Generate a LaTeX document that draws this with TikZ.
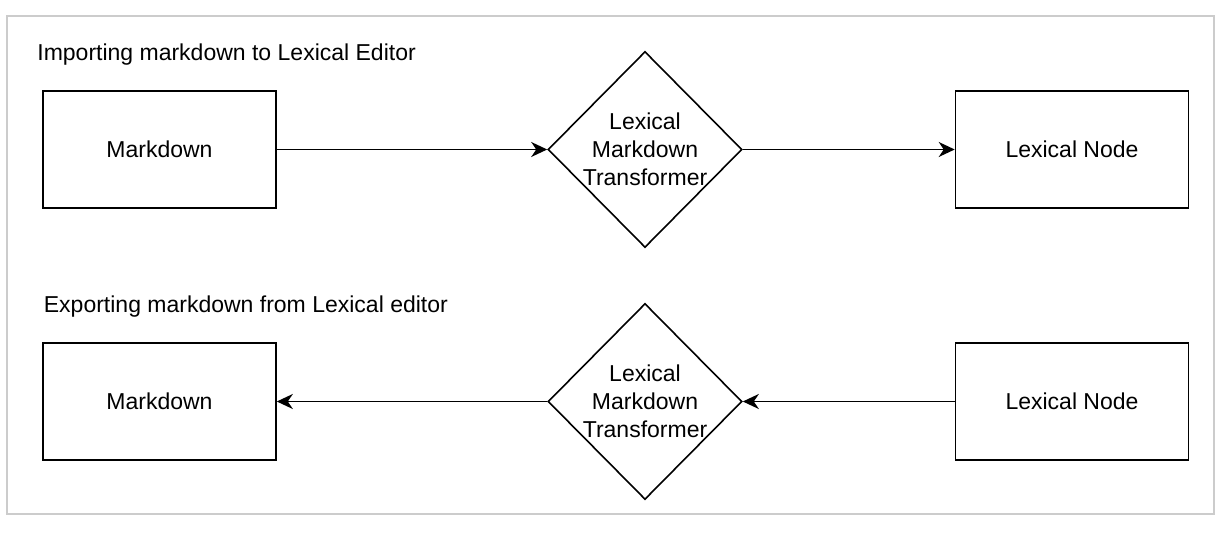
\documentclass[tikz,border=0pt]{standalone}
\usepackage{fontspec}
\setmainfont{Liberation Sans}
\usetikzlibrary{shapes.geometric,arrows.meta}

\begin{document}
\begin{tikzpicture}[x=0.5pt,y=-0.5pt,
	font=\fontsize{11.5}{14}\selectfont,
	title/.style={anchor=base west,inner sep=0pt},
	box/.style={draw,line width=0.8pt,minimum width=116.5pt,minimum height=58.5pt,inner sep=0pt},
	xform/.style={draw,diamond,line width=0.8pt,minimum width=97pt,minimum height=98pt,inner sep=-4pt,align=center},
	flow/.style={line width=0.8pt,-{Stealth[length=8pt,width=7.5pt,inset=2.5pt]}}]
	\useasboundingbox (0,0) rectangle (1230,544);
	\draw[line width=1pt,black!20] (7,16) rectangle (1214,514);
	\node[title] (imptitle) at (37,61) {Importing markdown to Lexical Editor};
	\node[box] (impmd) at (159.5,149.5) {Markdown};
	\node[xform] (impxf) at (645,149.5) {Lexical\\Markdown\\Transformer};
	\node[box] (implex) at (1072,149.5) {Lexical Node};
	\node[title] (exptitle) at (43.5,313) {Exporting markdown from Lexical editor};
	\node[box] (expmd) at (159.5,401.5) {Markdown};
	\node[xform] (expxf) at (645,401.5) {Lexical\\Markdown\\Transformer};
	\node[box] (explex) at (1072,401.5) {Lexical Node};
	\draw[flow] (impmd.east)--(impxf.west);
	\draw[flow] (impxf.east)--(implex.west);
	\draw[flow] (explex.west)--(expxf.east);
	\draw[flow] (expxf.west)--(expmd.east);
\end{tikzpicture}
\end{document}
